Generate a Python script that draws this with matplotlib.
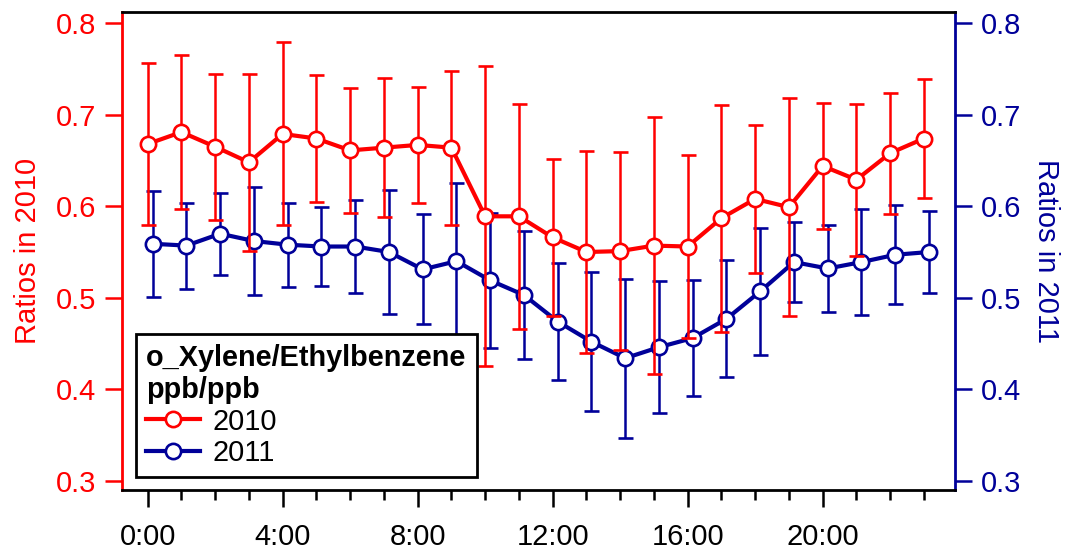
import matplotlib
matplotlib.use("Agg")
import matplotlib.pyplot as plt
from matplotlib.ticker import FixedLocator

plt.rcParams['font.family'] = ['Liberation Sans', 'DejaVu Sans']

hours = list(range(24))
tick_hours = [0, 4, 8, 12, 16, 20]
tick_labels = ["0:00", "4:00", "8:00", "12:00", "16:00", "20:00"]
y_ticks = [0.3, 0.4, 0.5, 0.6, 0.7, 0.8]

ratio_2010 = [0.668, 0.681, 0.665, 0.648, 0.679, 0.674, 0.661, 0.664, 0.667, 0.664,
              0.589, 0.589, 0.566, 0.550, 0.551, 0.557, 0.556, 0.587, 0.608, 0.599,
              0.644, 0.629, 0.658, 0.674]
err_2010 = [0.089, 0.084, 0.080, 0.097, 0.100, 0.069, 0.068, 0.076, 0.063, 0.084,
            0.164, 0.123, 0.086, 0.110, 0.108, 0.140, 0.100, 0.124, 0.081, 0.119,
            0.069, 0.083, 0.066, 0.065]

ratio_2011 = [0.559, 0.557, 0.570, 0.562, 0.558, 0.556, 0.556, 0.550, 0.531, 0.540,
              0.519, 0.503, 0.474, 0.452, 0.434, 0.446, 0.456, 0.477, 0.507, 0.539,
              0.532, 0.539, 0.547, 0.550]
err_2011 = [0.058, 0.047, 0.045, 0.059, 0.046, 0.043, 0.051, 0.068, 0.060, 0.085,
            0.074, 0.070, 0.064, 0.076, 0.087, 0.072, 0.063, 0.064, 0.069, 0.044,
            0.047, 0.058, 0.054, 0.045]
offset_2011 = 0.15  # 2011 points are drawn slightly to the right

RED = '#FF0000'
NAVY = '#000099'
FS_TICK = 21
FS_LAB = 21
FS_LEG = 20.8

fig = plt.figure(figsize=(10.7, 5.54), dpi=100)
ax = fig.add_axes([0.114, 0.1155, 0.7785, 0.8625])
ax2 = ax.twinx()

x2011 = [h + offset_2011 for h in hours]
style = dict(lw=3.0, marker='o', ms=11, mfc='white', mew=1.9,
             elinewidth=1.8, capsize=5.4, capthick=1.8)
c2 = ax2.errorbar(x2011, ratio_2011, yerr=err_2011, color=NAVY, mec=NAVY,
                  ecolor=NAVY, **style)
c1 = ax.errorbar(hours, ratio_2010, yerr=err_2010, color=RED, mec=RED,
                 ecolor=RED, **style)

ax.set_zorder(ax2.get_zorder() + 1)
ax.patch.set_visible(False)

for a in (ax, ax2):
    a.set_xlim(-0.76, 23.92)
    a.set_ylim(0.290, 0.812)
    a.set_yticks(y_ticks)
    a.set_yticklabels([f"{v:.1f}" for v in y_ticks])

ax.set_xticks(tick_hours)
ax.set_xticklabels(tick_labels)
ax.xaxis.set_minor_locator(FixedLocator([h for h in hours if h not in tick_hours]))

# spines
for a in (ax, ax2):
    for s in a.spines.values():
        s.set_linewidth(2.0)
ax.spines['right'].set_visible(False)
ax.spines['left'].set_color(RED)
ax.spines['top'].set_color('black')
ax.spines['bottom'].set_color('black')
ax2.spines['left'].set_visible(False)
ax2.spines['top'].set_visible(False)
ax2.spines['bottom'].set_visible(False)
ax2.spines['right'].set_color(NAVY)

ax.tick_params(axis='y', colors=RED, labelsize=FS_TICK, length=12.5, width=1.8, pad=6, direction='out')
ax2.tick_params(axis='y', colors=NAVY, labelsize=FS_TICK, length=12.5, width=1.8, pad=6, direction='out')
ax.tick_params(axis='x', which='major', colors='black', labelsize=FS_TICK, length=12.5, width=1.8, pad=11)
ax.tick_params(axis='x', which='minor', length=7, width=1.8)
ax2.tick_params(axis='x', which='both', bottom=False, top=False, labelbottom=False)

ax.set_ylabel("Ratios in 2010", color=RED, fontsize=FS_LAB, labelpad=10)
ax2.set_ylabel("Ratios in 2011", color=NAVY, fontsize=FS_LAB, rotation=270, labelpad=28)

leg = ax.legend([c1[0], c2[0]], ["2010", "2011"],
                title="o_Xylene/Ethylbenzene\nppb/ppb",
                title_fontproperties={'weight': 'bold', 'size': FS_LEG},
                fontsize=FS_LEG, loc='lower left', bbox_to_anchor=(0.0168, 0.027),
                borderaxespad=0, frameon=True, fancybox=False, framealpha=1,
                edgecolor='black', handlelength=1.85, handletextpad=0.45,
                labelspacing=0.12, borderpad=0.35, alignment='left')
leg.get_frame().set_linewidth(2.0)
leg.set_zorder(10)

fig.savefig("out.png", dpi=100)
